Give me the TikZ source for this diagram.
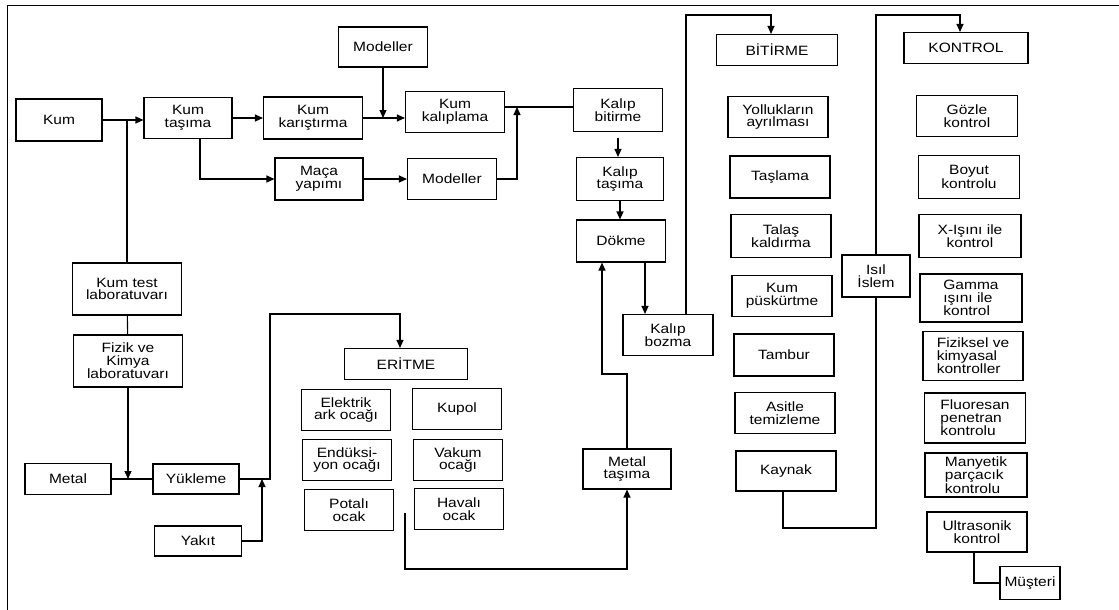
\documentclass[tikz,border=0pt]{standalone}
\usepackage{fontspec}
\setmainfont{Liberation Sans}[FakeStretch=1.15]
\usetikzlibrary{arrows.meta}

\tikzset{
  box/.style={draw, line width=1.1pt, align=center, inner sep=1pt,
    minimum width=88pt, minimum height=41pt,
    font=\fontsize{13.5}{12.5}\selectfont},
  head/.style={box, minimum width=122pt, minimum height=31pt},
  flow/.style={line width=1.1pt},
  arr/.style={flow, -{Triangle[length=8pt,width=7pt]}}
}

\begin{document}
\begin{tikzpicture}[x=1pt, y=-1pt]
  \useasboundingbox (0,0) rectangle (1119,610);
  \draw[line width=0.9pt] (7,610) -- (7,5) -- (1119,5);

  % sand and moulding
  \node[box, minimum width=86pt, minimum height=42pt] (kum) at (59,120) {Kum};
  \node[box] (kumtas) at (188,118) {Kum\\taşıma};
  \node[box, minimum width=99pt, minimum height=42pt] (kumkar) at (313,118) {Kum\\karıştırma};
  \node[box, minimum width=89pt, minimum height=40pt] (mod1) at (383,47) {Modeller};
  \node[box, minimum width=99pt] (kumkal) at (455,112) {Kum\\kalıplama};
  \node[box, minimum height=42pt] (maca) at (319,179) {Maça\\yapımı};
  \node[box, minimum width=89pt] (mod2) at (452,179) {Modeller};
  \node[box, minimum width=109pt, minimum height=52pt] (kumtest) at (127,289) {Kum test\\laboratuvarı};
  \node[box, minimum width=109pt, minimum height=52pt] (fizik) at (128,361) {Fizik ve\\Kimya\\laboratuvarı};

  % melting
  \node[box, minimum width=86pt, minimum height=31pt] (metal) at (68,479) {Metal};
  \node[box, minimum width=86pt, minimum height=30pt] (yuk) at (196,479) {Yükleme};
  \node[box, minimum width=87pt, minimum height=30pt] (yakit) at (198,541) {Yakıt};
  \node[head, minimum width=123pt] (eritme) at (406,364) {ERİTME};
  \node[box, minimum width=89pt] (ark) at (346,410) {Elektrik\\ark ocağı};
  \node[box, minimum width=89pt] (kupol) at (457,409) {Kupol};
  \node[box, minimum width=89pt] (induk) at (347,460) {Endüksi-\\yon ocağı};
  \node[box, minimum width=89pt] (vakum) at (458,460) {Vakum\\ocağı};
  \node[box, minimum width=89pt] (pota) at (349,510) {Potalı\\ocak};
  \node[box, minimum width=89pt] (haval) at (459,509) {Havalı\\ocak};

  % casting
  \node[box, minimum width=89pt, minimum height=43pt] (kalbit) at (618,110) {Kalıp\\bitirme};
  \node[box, minimum width=87pt, minimum height=43pt] (kaltas) at (620,179) {Kalıp\\taşıma};
  \node[box, minimum width=89pt, minimum height=42pt] (dokme) at (621,241) {Dökme};
  \node[box, minimum width=90pt] (kalboz) at (668,335) {Kalıp\\bozma};
  \node[box, minimum height=40pt] (mtas) at (627,469) {Metal\\taşıma};

  % finishing
  \node[head, minimum width=121pt] (bitirme) at (777,50) {BİTİRME};
  \node[box, minimum width=100pt] (yol) at (778,117) {Yollukların\\ayrılması};
  \node[box, minimum width=100pt, minimum height=42pt] (tasl) at (780,177) {Taşlama};
  \node[box, minimum width=100pt, minimum height=43pt] (talas) at (781,236) {Talaş\\kaldırma};
  \node[box, minimum width=100pt] (puskur) at (782,296) {Kum\\püskürtme};
  \node[box, minimum width=100pt, minimum height=42pt] (tambur) at (784,355) {Tambur};
  \node[box, minimum width=100pt] (asit) at (785,413) {Asitle\\temizleme};
  \node[box, minimum width=100pt, minimum height=40pt] (kaynak) at (786,471) {Kaynak};
  \node[box, minimum width=68pt, minimum height=42pt] (isil) at (876,276) {Isıl\\İslem};

  % control
  \node[head, minimum width=124pt] (kontrol) at (966,48) {KONTROL};
  \node[box, minimum width=101pt] (gozle) at (967,116) {Gözle\\kontrol};
  \node[box, minimum width=101pt, minimum height=43pt] (boyut) at (969,177) {Boyut\\kontrolu};
  \node[box, minimum width=102pt, minimum height=43pt] (xisin) at (970,236) {X-Işını ile\\kontrol};
  \node[box, minimum width=102pt, minimum height=48pt, align=left] (gamma) at (971,298) {Gamma\\ışını ile\\kontrol};
  \node[box, minimum width=100pt, minimum height=49pt, align=left] (fiz) at (973,356) {Fiziksel ve\\kimyasal\\kontroller};
  \node[box, minimum width=101pt, minimum height=50pt, align=left] (fluo) at (975,418) {Fluoresan\\penetran\\kontrolu};
  \node[box, minimum width=102pt, minimum height=44pt, align=left] (many) at (976,475) {Manyetik\\parçacık\\kontrolu};
  \node[box, minimum width=100pt, minimum height=40pt] (ultra) at (977,532) {Ultrasonik\\kontrol};
  \node[box, minimum width=60pt, minimum height=33pt] (musteri) at (1030,583) {Müşteri};

  % turning points
  \coordinate (j1) at (517,107);
  \coordinate (t1) at (686,15);
  \coordinate (t2) at (876,15);
  \coordinate (m1) at (602,374);
  \coordinate (e1) at (405,513);
  \coordinate (e2) at (405,569);
  \coordinate (u1) at (270,314);
  \coordinate (y1) at (262,479);
  \coordinate (k1) at (783,528);

  % sand flow
  \draw[arr] (kum.east) -- (kum.east -| kumtas.west);
  \draw[flow] (kumtest.north) -- (kumtest.north |- kum.east);
  \draw[flow] (kumtest) -- (fizik);
  \draw[arr] (kumtas.east) -- (kumkar.west);
  \draw[arr] ([xshift=12pt]kumtas.south) |- (maca.west);
  \draw[arr] (kumkar.east) -- (kumkar.east -| kumkal.west);
  \draw[arr] (mod1.south) -- (mod1.south |- kumkar.east);
  \draw[arr] (maca.east) -- (maca.east -| mod2.west);
  \draw[flow] (kumkal.east |- j1) -- (kalbit.west |- j1);
  \draw[arr] (mod2.east) -| (j1);

  % metal flow
  \draw[flow] (metal.east) -- (yuk.west);
  \draw[arr] (fizik.south) -- (fizik.south |- metal.east);
  \draw[arr] (yakit.east) -| (y1);
  \draw[arr] (yuk.east) -| (u1) -| ([xshift=-6pt]eritme.north);
  \draw[arr] (e1) -- (e2) -| (mtas.south);
  \draw[arr] (mtas.north) |- (m1) -- (m1 |- dokme.south);

  % casting flow
  \draw[arr, shorten <=6pt] (kalbit.south) -- (kalbit.south |- kaltas.north);
  \draw[arr] (kaltas.south) -- (kaltas.south |- dokme.north);
  \draw[arr] ([xshift=24pt]dokme.south) -- ([xshift=24pt]dokme.south |- kalboz.north);
  \draw[arr] (kalboz.north -| t1) -- (t1) -| ([xshift=-6pt]bitirme.north);
  \draw[flow] (kaynak.south -| k1) -- (k1) -| (isil.south);
  \draw[arr] (isil.north) -- (t2) -| ([xshift=-6pt]kontrol.north);
  \draw[flow] ([xshift=-3pt]ultra.south) |- (musteri.west);
\end{tikzpicture}
\end{document}
